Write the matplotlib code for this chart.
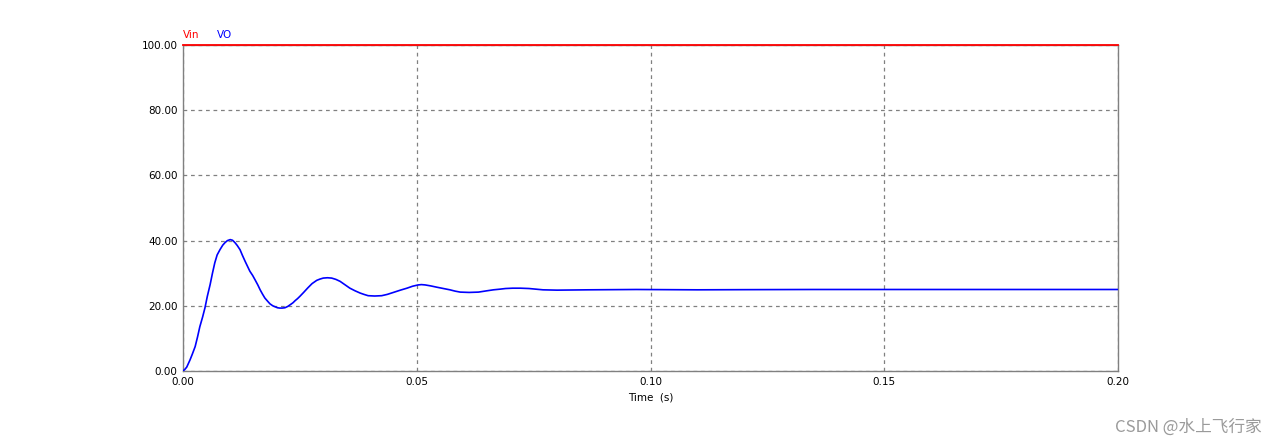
import matplotlib
matplotlib.use("Agg")
from matplotlib import pyplot as plt
from matplotlib.ticker import FormatStrFormatter

# values (time in s, voltage in V)
t_vo = [0.0, 0.0004, 0.0008, 0.0015, 0.0020, 0.0026, 0.0031, 0.0036, 0.0042,
        0.0047, 0.0052, 0.0058, 0.0063, 0.0068, 0.0073, 0.0079, 0.0085,
        0.0090, 0.0095, 0.0101, 0.0106, 0.0111, 0.0116, 0.0122, 0.0127,
        0.0133, 0.0138, 0.0143, 0.0149, 0.0154, 0.0160, 0.0165, 0.0170,
        0.0175, 0.0181, 0.0186, 0.0192, 0.0197, 0.0202, 0.0207, 0.0212,
        0.0218, 0.0224, 0.0229, 0.0235, 0.0240, 0.0245, 0.0250, 0.0258,
        0.0267, 0.0276, 0.0286, 0.0293, 0.0300, 0.0309, 0.0318, 0.0327,
        0.0336, 0.0346, 0.0357, 0.0368, 0.0379, 0.0387, 0.0396, 0.0410,
        0.0425, 0.0437, 0.0450, 0.0465, 0.0479, 0.0491, 0.0503, 0.0510,
        0.0518, 0.0530, 0.0543, 0.0557, 0.0571, 0.0582, 0.0593, 0.0612,
        0.0632, 0.0641, 0.0650, 0.0664, 0.0678, 0.0690, 0.0705, 0.0722,
        0.0740, 0.0755, 0.0770, 0.0800, 0.0866, 0.0970, 0.1100, 0.1200,
        0.1350, 0.1500, 0.1750, 0.2000]
vo = [0.0, 0.5, 1.2, 3.4, 5.2, 7.5, 10.4, 13.6, 16.6,
      19.4, 22.9, 26.5, 30.0, 33.2, 35.6, 37.2, 38.6,
      39.4, 40.0, 40.3, 40.1, 39.4, 38.5, 37.2, 35.5,
      33.6, 32.1, 30.6, 29.3, 28.0, 26.4, 24.9, 23.6,
      22.4, 21.4, 20.6, 20.0, 19.7, 19.4, 19.3, 19.3,
      19.4, 19.8, 20.3, 20.9, 21.6, 22.2, 22.9, 24.1,
      25.5, 26.8, 27.8, 28.2, 28.5, 28.6, 28.5, 28.1,
      27.5, 26.5, 25.4, 24.6, 23.9, 23.5, 23.1, 23.0,
      23.1, 23.5, 24.1, 24.8, 25.4, 26.0, 26.4, 26.5,
      26.4, 26.1, 25.7, 25.3, 24.9, 24.5, 24.2, 24.1,
      24.2, 24.4, 24.6, 24.9, 25.1, 25.3, 25.4, 25.4,
      25.3, 25.1, 24.9, 24.8, 24.9, 25.0,  24.9, 24.95,
      25.0, 25.0, 25.0, 25.0]

t_vin = [0.0, 0.2]
vin = [100.0, 100.0]

x_ticks = [0.0, 0.05, 0.10, 0.15, 0.20]
y_ticks = [0, 20, 40, 60, 80, 100]

fig = plt.figure(figsize=(12.78, 4.45), dpi=100)
ax = fig.add_axes([0.1432, 0.1663, 0.7316, 0.7326])

ax.plot(t_vin, vin, color="#ff0000", lw=1.3, clip_on=False, zorder=5)
ax.plot(t_vo, vo, color="#0000ff", lw=1.2, zorder=4)

ax.set_xlim(0, 0.2)
ax.set_ylim(0, 100)
ax.set_xticks(x_ticks)
ax.set_yticks(y_ticks)
ax.xaxis.set_major_formatter(FormatStrFormatter("%.2f"))
ax.yaxis.set_major_formatter(FormatStrFormatter("%.2f"))
ax.tick_params(length=0, labelsize=7.5, pad=4)
ax.grid(True, color="#808080", linestyle=(0, (3, 3)), lw=0.9)

for s in ax.spines.values():
    s.set_color("#808080")
    s.set_linewidth(1.0)

ax.set_xlabel("Time  (s)", fontsize=7.5, labelpad=4)

fig.text(183 / 1278, 1 - 35 / 445, "Vin", color="#ff0000", fontsize=7.5, va="center")
fig.text(217 / 1278, 1 - 35 / 445, "VO", color="#0000ff", fontsize=7.5, va="center")

fig.text(1262 / 1278, 1 - 427 / 445, "CSDN @水上飞行家", color="#9a9a9a", fontsize=12,
         ha="right", va="center", family=["Noto Sans CJK SC", "DejaVu Sans"])

fig.savefig("out.png", dpi=100)
